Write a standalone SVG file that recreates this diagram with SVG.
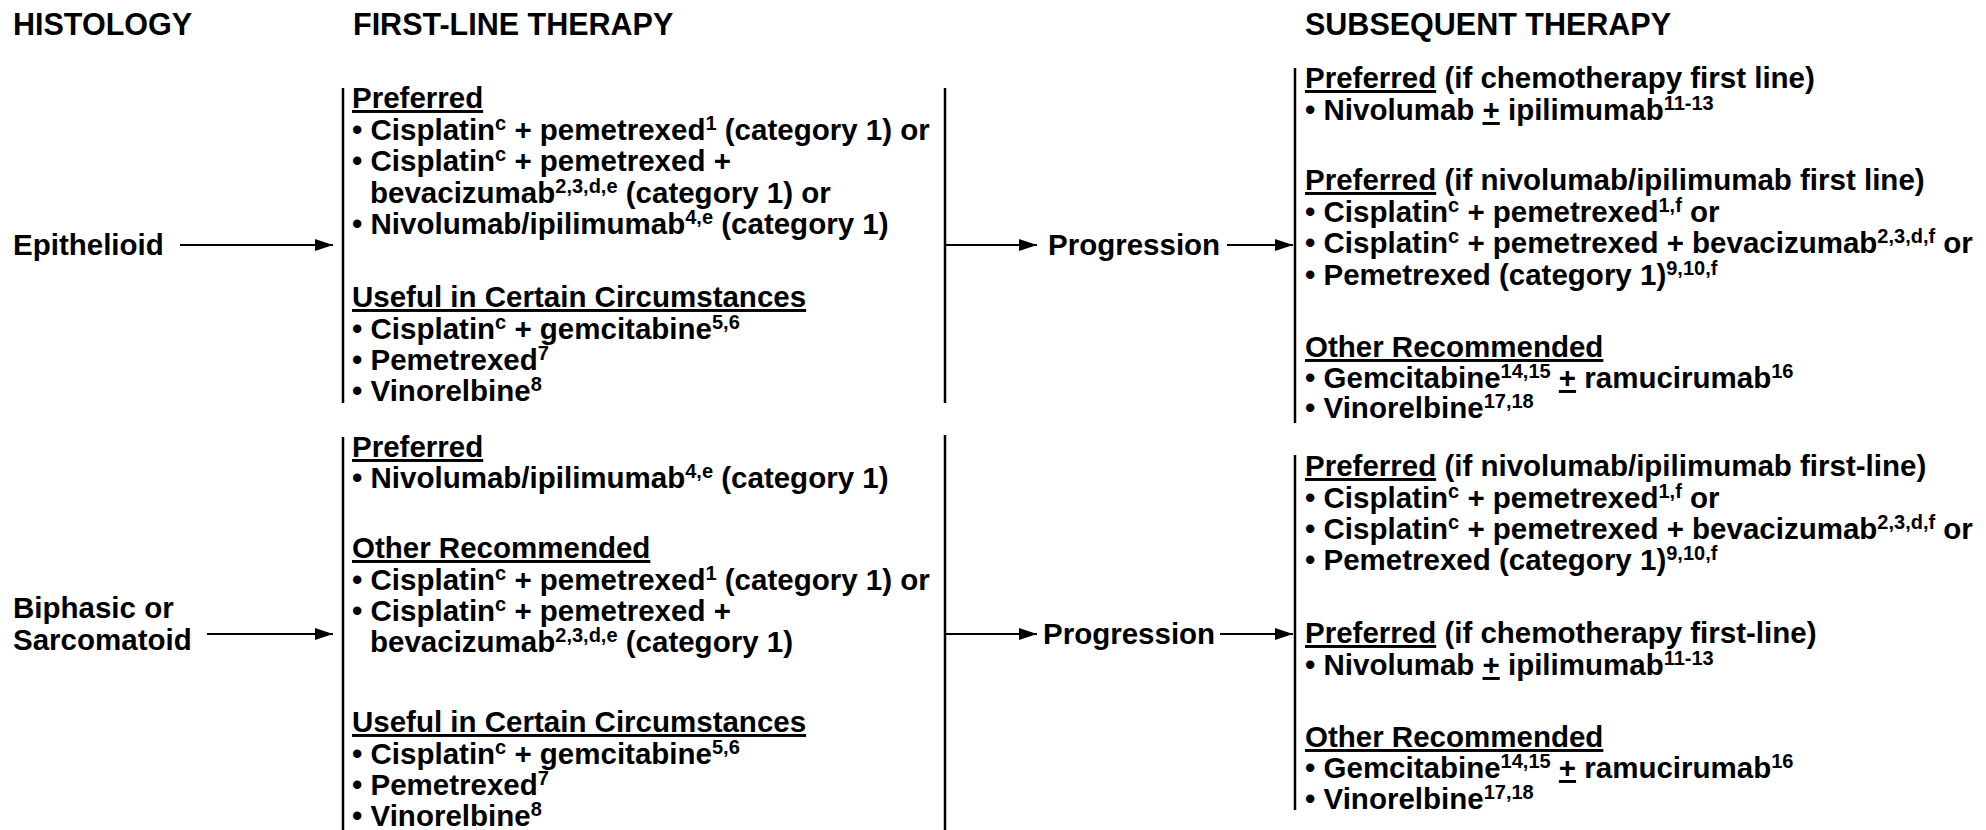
<svg xmlns="http://www.w3.org/2000/svg" width="1986" height="830" viewBox="0 0 1986 830">
<defs>
<marker id="ah" markerUnits="userSpaceOnUse" markerWidth="18" markerHeight="12" refX="18" refY="6" orient="auto">
<path d="M0,0 L18,6 L0,12 z" fill="#000"/>
</marker>
<style>
text{font-family:"Liberation Sans",Arial,sans-serif;font-weight:bold;fill:#000;font-size:29.5px}
.h{font-size:30.5px}
.u{text-decoration:underline}
.s{font-size:20px;baseline-shift:10px}
.bar{stroke:#000;stroke-width:2.5;fill:none}
.arr{stroke:#000;stroke-width:2;fill:none;marker-end:url(#ah)}
</style>
</defs>
<rect width="1986" height="830" fill="#fff"/>

<g id="headers">
<text class="h" x="13" y="35">HISTOLOGY</text>
<text class="h" x="353" y="35">FIRST-LINE THERAPY</text>
<text class="h" x="1305" y="35">SUBSEQUENT THERAPY</text>
</g>

<g id="epithelioid">
<text x="13" y="255">Epithelioid</text>
</g>

<g id="biphasic">
<text x="13" y="618">Biphasic or</text>
<text x="13" y="650">Sarcomatoid</text>
</g>

<g id="first-line-epithelioid">
<line class="bar" x1="343" y1="88" x2="343" y2="403"/>
<line class="bar" x1="945" y1="88" x2="945" y2="403"/>
<text x="352" y="108"><tspan class="u">Preferred</tspan></text>
<text x="352" y="140">• Cisplatin<tspan class="s">c</tspan> + pemetrexed<tspan class="s">1</tspan> (category 1) or</text>
<text x="352" y="171">• Cisplatin<tspan class="s">c</tspan> + pemetrexed +</text>
<text x="370" y="203">bevacizumab<tspan class="s">2,3,d,e</tspan> (category 1) or</text>
<text x="352" y="234">• Nivolumab/ipilimumab<tspan class="s">4,e</tspan> (category 1)</text>
<text x="352" y="307"><tspan class="u">Useful in Certain Circumstances</tspan></text>
<text x="352" y="339">• Cisplatin<tspan class="s">c</tspan> + gemcitabine<tspan class="s">5,6</tspan></text>
<text x="352" y="370">• Pemetrexed<tspan class="s">7</tspan></text>
<text x="352" y="401">• Vinorelbine<tspan class="s">8</tspan></text>
</g>

<g id="first-line-biphasic">
<line class="bar" x1="343" y1="437" x2="343" y2="830"/>
<line class="bar" x1="945" y1="435" x2="945" y2="830"/>
<text x="352" y="457"><tspan class="u">Preferred</tspan></text>
<text x="352" y="488">• Nivolumab/ipilimumab<tspan class="s">4,e</tspan> (category 1)</text>
<text x="352" y="558"><tspan class="u">Other Recommended</tspan></text>
<text x="352" y="590">• Cisplatin<tspan class="s">c</tspan> + pemetrexed<tspan class="s">1</tspan> (category 1) or</text>
<text x="352" y="621">• Cisplatin<tspan class="s">c</tspan> + pemetrexed +</text>
<text x="370" y="652">bevacizumab<tspan class="s">2,3,d,e</tspan> (category 1)</text>
<text x="352" y="732"><tspan class="u">Useful in Certain Circumstances</tspan></text>
<text x="352" y="764">• Cisplatin<tspan class="s">c</tspan> + gemcitabine<tspan class="s">5,6</tspan></text>
<text x="352" y="795">• Pemetrexed<tspan class="s">7</tspan></text>
<text x="352" y="826">• Vinorelbine<tspan class="s">8</tspan></text>
</g>

<g id="progression-1">
<text x="1048" y="255">Progression</text>
</g>
<g id="progression-2">
<text x="1043" y="644">Progression</text>
</g>

<g id="subsequent-epithelioid">
<line class="bar" x1="1295" y1="68" x2="1295" y2="423"/>
<text x="1305" y="88"><tspan class="u">Preferred</tspan> (if chemotherapy first line)</text>
<text x="1305" y="120">• Nivolumab <tspan class="u">+</tspan> ipilimumab<tspan class="s">11-13</tspan></text>
<text x="1305" y="190"><tspan class="u">Preferred</tspan> (if nivolumab/ipilimumab first line)</text>
<text x="1305" y="222">• Cisplatin<tspan class="s">c</tspan> + pemetrexed<tspan class="s">1,f</tspan> or</text>
<text x="1305" y="253">• Cisplatin<tspan class="s">c</tspan> + pemetrexed + bevacizumab<tspan class="s">2,3,d,f</tspan> or</text>
<text x="1305" y="285">• Pemetrexed (category 1)<tspan class="s">9,10,f</tspan></text>
<text x="1305" y="357"><tspan class="u">Other Recommended</tspan></text>
<text x="1305" y="388">• Gemcitabine<tspan class="s">14,15</tspan> <tspan class="u">+</tspan> ramucirumab<tspan class="s">16</tspan></text>
<text x="1305" y="418">• Vinorelbine<tspan class="s">17,18</tspan></text>
</g>

<g id="subsequent-biphasic">
<line class="bar" x1="1295" y1="455" x2="1295" y2="810"/>
<text x="1305" y="476"><tspan class="u">Preferred</tspan> (if nivolumab/ipilimumab first-line)</text>
<text x="1305" y="508">• Cisplatin<tspan class="s">c</tspan> + pemetrexed<tspan class="s">1,f</tspan> or</text>
<text x="1305" y="539">• Cisplatin<tspan class="s">c</tspan> + pemetrexed + bevacizumab<tspan class="s">2,3,d,f</tspan> or</text>
<text x="1305" y="570">• Pemetrexed (category 1)<tspan class="s">9,10,f</tspan></text>
<text x="1305" y="643"><tspan class="u">Preferred</tspan> (if chemotherapy first-line)</text>
<text x="1305" y="675">• Nivolumab <tspan class="u">+</tspan> ipilimumab<tspan class="s">11-13</tspan></text>
<text x="1305" y="747"><tspan class="u">Other Recommended</tspan></text>
<text x="1305" y="778">• Gemcitabine<tspan class="s">14,15</tspan> <tspan class="u">+</tspan> ramucirumab<tspan class="s">16</tspan></text>
<text x="1305" y="809">• Vinorelbine<tspan class="s">17,18</tspan></text>
</g>

<g id="connectors">
<line class="arr" x1="180" y1="245" x2="333" y2="245"/>
<line class="arr" x1="207" y1="634" x2="333" y2="634"/>
<line class="arr" x1="945" y1="245" x2="1037" y2="245"/>
<line class="arr" x1="1227" y1="245" x2="1293" y2="245"/>
<line class="arr" x1="945" y1="634" x2="1037" y2="634"/>
<line class="arr" x1="1220" y1="634" x2="1293" y2="634"/>
</g>
</svg>
